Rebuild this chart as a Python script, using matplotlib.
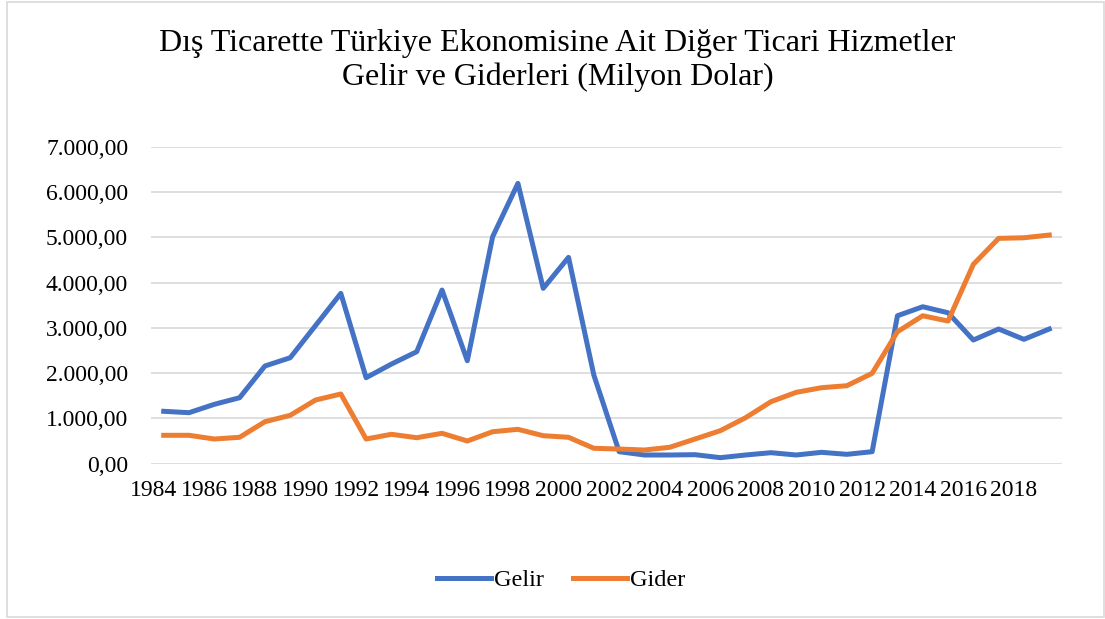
import matplotlib.pyplot as plt
from matplotlib.ticker import FuncFormatter
from matplotlib.patches import Rectangle
from matplotlib.transforms import ScaledTranslation

# Other commercial services in Turkey's foreign trade, million USD
years = list(range(1984, 2020))
gelir = [1157, 1126, 1311, 1457, 2157, 2340, 3050, 3761, 1899, 2200,
         2473, 3835, 2274, 5011, 6190, 3872, 4556, 1958, 265, 192,
         192, 199, 133, 192, 243, 192, 251, 207, 265, 3267,
         3466, 3333, 2731, 2974, 2746, 2974]
gider = [627, 627, 545, 583, 927, 1068, 1406, 1539, 545, 649,
         574, 671, 501, 706, 759, 618, 583, 340, 324, 302,
         362, 545, 729, 1016, 1369, 1576, 1678, 1722, 1996, 2914,
         3267, 3150, 4402, 4976, 4989, 5049]
series_names = ["Gelir", "Gider"]
title = "Dış Ticarette Türkiye Ekonomisine Ait Diğer Ticari Hizmetler\nGelir ve Giderleri (Milyon Dolar)"

plt.rcParams['font.family'] = ['Liberation Serif', 'DejaVu Serif']

fig = plt.figure(figsize=(11.05, 6.19), dpi=100)
ax = fig.add_axes([0.1367, 0.2509, 0.8243, 0.5121])

ax.plot(years, gelir, color='#4472C4', lw=3.6, label=series_names[0], solid_joinstyle='round')
ax.plot(years, gider, color='#ED7D31', lw=3.6, label=series_names[1], solid_joinstyle='round')

ax.set_xlim(years[0] - 0.5, years[-1] + 0.5)
ax.set_ylim(0, 7000)
ax.set_yticks(range(0, 7001, 1000))
ax.yaxis.set_major_formatter(FuncFormatter(
    lambda v, p: f"{v:,.2f}".replace(",", "X").replace(".", ",").replace("X", ".")))
ax.set_xticks(years[::2])
ax.set_xticklabels([str(y) for y in years[::2]])
ax.tick_params(axis='both', length=0, labelsize=17, colors='#000000')
ax.tick_params(axis='y', pad=16.5)
ax.tick_params(axis='x', pad=12)
for lbl in ax.get_xticklabels():
    lbl.set_transform(lbl.get_transform() + ScaledTranslation(-0.10, 0, fig.dpi_scale_trans))

ax.grid(axis='y', color='#D9D9D9', lw=1.2)
ax.set_axisbelow(True)
for s in ax.spines.values():
    s.set_visible(False)

fig.text(0.5045, 1 - 61 / 619, title, ha='center', va='center', fontsize=23, linespacing=1.2)

fig.legend(loc='center', bbox_to_anchor=(0.508, 1 - 580 / 619), ncol=2, frameon=False,
           fontsize=17.5, handlelength=2.2, handletextpad=0.15, columnspacing=1.2)

# light frame around the chart
fig.patches.append(Rectangle((7 / 1105, 2 / 619), 1097 / 1105, 615 / 619,
                             transform=fig.transFigure, fill=False,
                             edgecolor='#D9D9D9', lw=1.2))

fig.savefig('out.png', dpi=100)
